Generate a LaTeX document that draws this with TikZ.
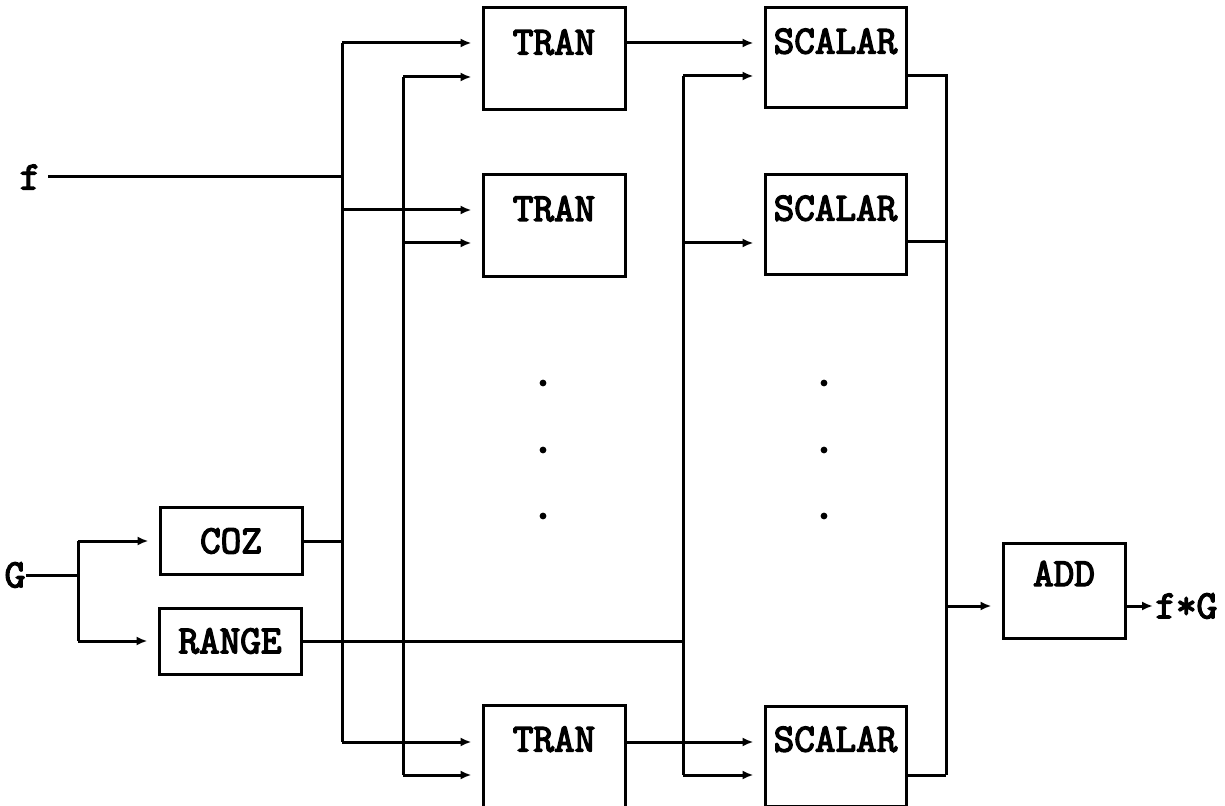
\documentclass[tikz,border=0pt]{standalone}
\usepackage{fontspec}
\newfontfamily\slab{Latin Modern Mono}[FakeBold=3.5]
\usetikzlibrary{arrows.meta}
\begin{document}
\begin{tikzpicture}[x=0.5pt,y=-0.5pt,
  wire/.style={line width=1.5pt},
  tip/.style={-{Latex[length=5.5pt,width=4.5pt]}},
  arr/.style={wire,tip,shorten >=5pt},
  txtfont/.style={font=\slab\fontsize{20}{22}\selectfont},
  box/.style={draw,line width=1.5pt,inner sep=0pt,txtfont},
  topbox/.style={box,text height=10.5pt,text depth=15pt},
  tranbox/.style={topbox,minimum width=71pt,minimum height=51pt},
  scalbox/.style={topbox,minimum width=70.5pt,minimum height=50pt},
  smallbox/.style={box,minimum width=71pt,minimum height=33pt},
  lbl/.style={inner sep=0pt,txtfont},
  dot/.style={fill=black}
]
\useasboundingbox (0,0) rectangle (1225,806);

% boxes
\node[tranbox] (t1) at (554,59) {TRAN};
\node[tranbox] (t2) at (554,225.5) {TRAN};
\node[tranbox] (t3) at (554,756) {TRAN};
\node[scalbox] (s1) at (835.5,58) {SCALAR};
\node[scalbox] (s2) at (835.5,225) {SCALAR};
\node[scalbox] (s3) at (835.5,756) {SCALAR};
\node[topbox,minimum width=61pt,minimum height=47.5pt] (add) at (1064,590.5) {ADD};
\node[smallbox] (coz) at (231,541) {COZ};
\node[smallbox] (range) at (230,641) {RANGE};

% labels
\node[lbl] (f) at (30,177) {f};
\node[lbl] (G) at (15,575) {G};
\node[lbl,anchor=west] (fg) at (1155,606) {f*G};

% bus coordinates
\coordinate (fj) at (342,177);
\coordinate (b1a) at (342,43);
\coordinate (b1m) at (342,210);
\coordinate (b1b) at (342,742);
\coordinate (b2a) at (403,77);
\coordinate (b2m) at (403,243);
\coordinate (b2b) at (403,775);
\coordinate (b3a) at (683,76);
\coordinate (b3m) at (683,243);
\coordinate (b3b) at (683,775);
\coordinate (b4a) at (946,76);
\coordinate (b4m) at (946,242);
\coordinate (b4b) at (946,775);
\coordinate (b4j) at (946,606);
\coordinate (gj) at (78,575);
\coordinate (gjt) at (78,541);
\coordinate (gjb) at (78,641);
\coordinate (fs) at (48,177);

% input f
\draw[wire] (fs) -- (fj);
% G splitter
\draw[wire] (G.east) -- (gj);
\draw[wire] (gjt) -- (gjb);
\draw[arr] (gjt) -- (coz.west);
\draw[arr] (gjb) -- (range.west);
% COZ and RANGE outputs
\draw[wire] (coz.east) -- (coz.east -| b1a);
\draw[wire] (range.east) -- (range.east -| b3a);

% bus 1
\draw[wire] (b1a) -- (b1b);
\draw[arr] (b1a) -- (t1.west |- b1a);
\draw[arr] (b1m) -- (t2.west |- b1m);
\draw[arr] (b1b) -- (t3.west |- b1b);
% bus 2
\draw[wire] (b2a) -- (b2b);
\draw[arr] (b2a) -- (t1.west |- b2a);
\draw[arr] (b2m) -- (t2.west |- b2m);
\draw[arr] (b2b) -- (t3.west |- b2b);
% bus 3
\draw[wire] (b3a) -- (b3b);
\draw[arr] (b3a) -- (s1.west |- b3a);
\draw[arr] (b3m) -- (s2.west |- b3m);
\draw[arr] (b3b) -- (s3.west |- b3b);
% TRAN outputs
\draw[arr] (t1.east |- b1a) -- (s1.west |- b1a);
\draw[arr] (t3.east |- b1b) -- (s3.west |- b1b);
% SCALAR outputs
\draw[wire] (s1.east |- b4a) -- (b4a) -- (b4b);
\draw[wire] (s2.east |- b4m) -- (b4m);
\draw[wire] (s3.east |- b4b) -- (b4b);
\draw[arr] (b4j) -- (add.west |- b4j);
\draw[wire,tip,shorten >=1pt] (add.east |- b4j) -- (fg.west);

% dots
\fill[dot] (543,383) circle (1.7pt);
\fill[dot] (543,450) circle (1.7pt);
\fill[dot] (543,516) circle (1.7pt);
\fill[dot] (824,383) circle (1.7pt);
\fill[dot] (824,450) circle (1.7pt);
\fill[dot] (824,516) circle (1.7pt);
\end{tikzpicture}
\end{document}
